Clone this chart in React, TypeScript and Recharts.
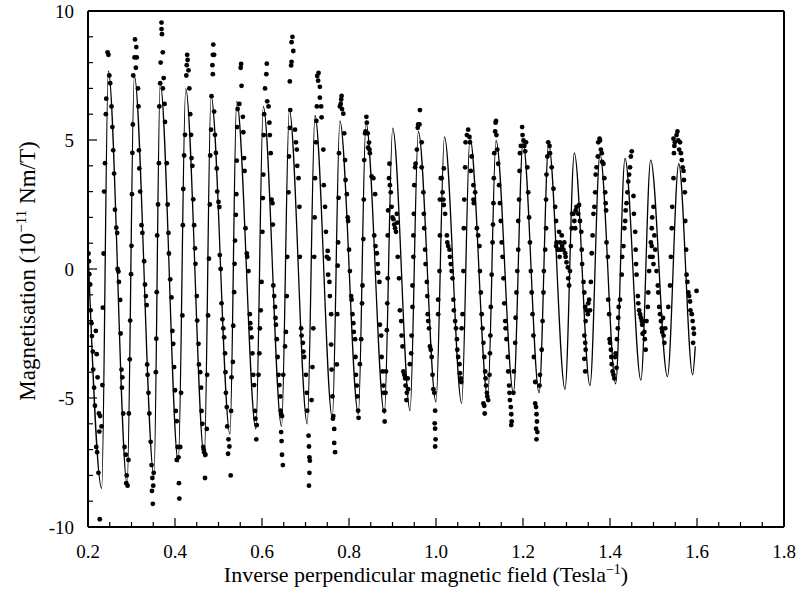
import {
  ComposedChart,
  Line,
  ReferenceLine,
  Scatter,
  XAxis,
  YAxis,
} from "recharts";

// fitted curve: start, then trough / peak pairs
const fitExtrema: [number, number][] = [
  [0.2, 0.8],
  [0.2315, -8.5], [0.2467, 7.68],
  [0.29, -8.34], [0.3065, 7.48],
  [0.3517, -8.0], [0.366, 7.2],
  [0.4076, -7.5], [0.4246, 6.99],
  [0.4674, -7.3], [0.4828, 6.71],
  [0.5264, -6.4], [0.5418, 6.5],
  [0.586, -6.2], [0.603, 6.3],
  [0.645, -6.1], [0.6628, 6.16],
  [0.704, -6.0], [0.7218, 5.95],
  [0.7617, -5.77], [0.779, 5.74],
  [0.8215, -5.63], [0.839, 5.67],
  [0.8813, -5.6], [0.9004, 5.46],
  [0.9404, -5.49], [0.9594, 5.33],
  [1.0, -5.15], [1.0195, 5.12],
  [1.059, -5.21], [1.078, 5.1],
  [1.119, -5.0], [1.138, 4.98],
  [1.178, -4.8], [1.2, 4.9],
  [1.237, -4.8], [1.259, 4.84],
  [1.2966, -4.66], [1.318, 4.49],
  [1.354, -4.52], [1.377, 4.45],
  [1.413, -4.45], [1.4345, 4.29],
  [1.471, -4.31], [1.4935, 4.22],
  [1.532, -4.17], [1.558, 4.08],
  [1.59, -4.1], [1.596, -3.0],
];

// measured points, grouped by x range
const dots02: [number, number][] = [
  [0.201, 0.6], [0.202, 0.3], [0.203, -0.2], [0.205, -0.6], [0.206, -1.6], [0.208, -2.1],
  [0.209, -2.6], [0.211, -3.2], [0.212, -3.9], [0.214, -4.6], [0.216, -5.3], [0.218, -2.4],
  [0.22, -3.3], [0.222, -4.2], [0.225, -5.6], [0.228, -5.7], [0.231, -6.1], [0.219, -6.9],
  [0.221, -7.1], [0.224, -7.9], [0.226, -6.3], [0.227, -9.7],
  [0.233, -4.5], [0.234, -1.5], [0.236, 0.6], [0.237, 3.0], [0.239, 4.1], [0.241, 6.0],
  [0.242, 6.6], [0.245, 8.4], [0.247, 8.3], [0.249, 7.5], [0.251, 7.2],
  [0.254, 6.3], [0.256, 5.5], [0.258, 4.6], [0.26, 3.7], [0.262, 2.3], [0.265, 1.6],
  [0.267, 1.4], [0.268, 0.0], [0.27, -0.1], [0.271, -0.5], [0.274, -1.2], [0.275, -2.5],
  [0.277, -3.9], [0.279, -4.2], [0.278, -4.6], [0.281, -5.6], [0.284, -6.9], [0.287, -7.2],
  [0.289, -8.0], [0.288, -8.3], [0.291, -8.4],
  [0.293, -7.4], [0.294, -5.6], [0.296, -3.5], [0.297, -2.0], [0.299, -0.2], [0.3, 0.9],
  [0.301, 2.9], [0.302, 4.5], [0.303, 5.6], [0.304, 7.5], [0.307, 8.2], [0.308, 8.9],
  [0.312, 8.2], [0.311, 8.6], [0.31, 7.8],
];

const dots03: [number, number][] = [
  [0.315, 7.0], [0.316, 6.3], [0.317, 4.6], [0.318, 3.9], [0.32, 3.0], [0.323, 1.7],
  [0.325, 1.4], [0.329, 0.3], [0.331, -0.6], [0.333, -1.05], [0.335, -1.4], [0.336, -3.7],
  [0.337, -4.1], [0.339, -4.8], [0.341, -5.6], [0.344, -6.7], [0.346, -7.6], [0.348, -8.1],
  [0.35, -8.4], [0.347, -8.6], [0.349, -9.1], [0.351, -7.9],
  [0.356, -4.0], [0.357, -2.7], [0.358, -0.9], [0.359, 1.3], [0.361, 2.5], [0.363, 4.1],
  [0.364, 6.3], [0.366, 7.2], [0.367, 8.0], [0.369, 9.55], [0.369, 9.3], [0.37, 9.1],
  [0.372, 8.4], [0.374, 7.4], [0.372, 7.0],
  [0.376, 6.4], [0.377, 5.7], [0.381, 4.1], [0.383, 2.5], [0.385, 1.4], [0.386, 0.6],
  [0.389, -0.4], [0.392, -1.1], [0.394, -2.4], [0.396, -2.9], [0.398, -3.8], [0.4, -4.7],
  [0.402, -5.5], [0.404, -5.9], [0.406, -6.9], [0.404, -7.4], [0.408, -7.3], [0.409, -8.3],
  [0.41, -8.9],
  [0.412, -6.9], [0.414, -4.8], [0.417, -1.8], [0.418, 1.7], [0.419, 3.1], [0.421, 4.4],
  [0.423, 5.2], [0.427, 7.9], [0.429, 8.1], [0.431, 7.7], [0.426, 7.5], [0.428, 8.3],
  [0.433, 7.0], [0.435, 6.0], [0.437, 5.2], [0.438, 4.3], [0.44, 4.0], [0.442, 2.7],
  [0.444, 1.7], [0.446, 0.8], [0.447, 0.2], [0.45, -1.05], [0.451, -2.0], [0.454, -2.9],
  [0.455, -3.7], [0.458, -4.0], [0.46, -4.6], [0.461, -5.5], [0.463, -6.0], [0.465, -6.9],
  [0.467, -7.1], [0.469, -8.1], [0.466, -7.0], [0.47, -7.2],
  [0.473, -6.2], [0.474, -4.1], [0.476, -1.8], [0.478, 0.4], [0.48, 2.5], [0.481, 4.4],
  [0.483, 5.4], [0.484, 6.7], [0.486, 7.9], [0.487, 8.3], [0.488, 8.7], [0.49, 8.3],
  [0.487, 7.55],
];

const dots05: [number, number][] = [
  [0.49, 6.1], [0.492, 5.2], [0.494, 4.5], [0.496, 3.9], [0.497, 3.0], [0.5, 2.6],
  [0.502, 2.4], [0.503, 0.54], [0.505, 0.0], [0.507, -1.33], [0.509, -1.95], [0.511, -2.3],
  [0.513, -2.65], [0.515, -3.27], [0.516, -4.0], [0.517, -4.8], [0.519, -5.35], [0.52, -6.1],
  [0.523, -6.6], [0.525, -6.88], [0.522, -7.16], [0.528, -8.0],
  [0.529, -5.5], [0.53, -4.2], [0.533, -3.6], [0.534, -2.2], [0.536, -0.9], [0.537, 0.2],
  [0.538, 1.1], [0.54, 2.1], [0.541, 2.9], [0.542, 4.2], [0.543, 5.5], [0.544, 6.2],
  [0.548, 6.4], [0.551, 7.8], [0.552, 7.95], [0.553, 7.1],
  [0.556, 5.9], [0.557, 5.3], [0.559, 4.3], [0.56, 3.8], [0.562, 1.58], [0.565, 0.6],
  [0.566, 0.47], [0.569, -0.08], [0.572, -1.75], [0.573, -2.1], [0.574, -2.3], [0.576, -2.65],
  [0.578, -3.27], [0.58, -4.1], [0.582, -4.5], [0.584, -5.5], [0.585, -5.8], [0.588, -6.05],
  [0.587, -6.6],
  [0.592, -4.1], [0.594, -3.27], [0.595, -2.3], [0.597, -1.6], [0.599, -0.5], [0.601, 1.44],
  [0.602, 2.75], [0.603, 3.66], [0.604, 5.19], [0.605, 6.0], [0.607, 7.0], [0.611, 7.96],
  [0.61, 7.55], [0.612, 6.5], [0.615, 6.3],
  [0.617, 5.67], [0.618, 5.19], [0.62, 4.49], [0.622, 2.69], [0.624, 2.55], [0.625, 1.72],
  [0.626, -0.64], [0.628, -1.05], [0.63, -1.47], [0.631, -1.9], [0.632, -2.16], [0.634, -2.72],
  [0.636, -3.41], [0.638, -4.1], [0.64, -4.5], [0.642, -4.94], [0.643, -5.49], [0.644, -5.63],
  [0.646, -5.7], [0.644, -6.32], [0.645, -6.67], [0.646, -7.2], [0.648, -7.6],
  [0.649, -4.1], [0.653, -3.0], [0.655, -2.44], [0.657, -1.05], [0.658, 0.47], [0.661, 2.97],
  [0.662, 4.36], [0.664, 5.47], [0.665, 6.16], [0.664, 7.27], [0.667, 7.89], [0.668, 8.03],
  [0.668, 8.79], [0.67, 9.0], [0.672, 8.45],
];

const dots07: [number, number][] = [
  [0.676, 5.4], [0.678, 4.91], [0.68, 4.63], [0.681, 4.0], [0.684, 3.52], [0.686, 2.41],
  [0.687, 0.47], [0.69, -2.3], [0.691, -2.58], [0.694, -2.86], [0.695, -3.2], [0.697, -3.41],
  [0.701, -4.1], [0.703, -4.8], [0.704, -5.49], [0.707, -6.46], [0.708, -6.88], [0.709, -7.3],
  [0.71, -7.43], [0.709, -7.9], [0.708, -8.4],
  [0.714, -5.08], [0.716, -3.8], [0.718, -2.3], [0.72, 0.47], [0.721, 2.0], [0.722, 3.52],
  [0.724, 4.91], [0.725, 5.74], [0.726, 6.3], [0.727, 7.48], [0.73, 7.6], [0.729, 7.3],
  [0.733, 7.06], [0.733, 6.64], [0.736, 6.3], [0.737, 5.88],
  [0.741, 4.63], [0.742, 3.25], [0.745, 2.41], [0.747, 1.44], [0.749, 0.47], [0.751, 0.7],
  [0.753, 0.4], [0.752, -0.22], [0.755, -0.5], [0.756, -1.05], [0.759, -1.75], [0.759, -2.93],
  [0.76, -3.9], [0.762, -4.94], [0.764, -5.7], [0.763, -5.8], [0.766, -6.2], [0.766, -6.74],
  [0.768, -7.1],
  [0.772, -3.7], [0.773, -1.75], [0.774, 0.13], [0.775, 1.03], [0.776, 2.76], [0.777, 4.49],
  [0.779, 6.3], [0.782, 6.57], [0.781, 6.4], [0.783, 6.71], [0.784, 6.2], [0.787, 6.02],
  [0.789, 5.26],
  [0.791, 4.22], [0.792, 3.45], [0.795, 2.9], [0.797, 2.0], [0.798, 1.86], [0.8, 0.75],
  [0.802, -0.08], [0.805, -1.05], [0.806, -1.19], [0.808, -1.75], [0.81, -2.1], [0.811, -2.44],
  [0.814, -2.72], [0.815, -3.41], [0.816, -4.1], [0.818, -4.52], [0.819, -4.94], [0.821, -5.49],
  [0.822, -5.77],
  [0.825, -3.69], [0.828, -2.72], [0.83, -1.33], [0.831, -0.64], [0.833, 1.16], [0.834, 2.69],
  [0.835, 4.22], [0.837, 5.26], [0.838, 5.33], [0.841, 5.67], [0.84, 5.9], [0.843, 5.26],
  [0.844, 4.7], [0.847, 4.63], [0.848, 4.49], [0.846, 4.9],
];

const dots09: [number, number][] = [
  [0.852, 3.59], [0.856, 3.52], [0.86, 2.9], [0.858, 1.3], [0.861, 0.89], [0.864, 0.61],
  [0.866, 0.19], [0.867, -0.15], [0.87, -0.5], [0.871, -2.16], [0.874, -2.58], [0.875, -3.41],
  [0.877, -3.97], [0.879, -4.52], [0.88, -4.8], [0.881, -5.49], [0.882, -5.91],
  [0.884, -4.8], [0.885, -3.97], [0.887, -2.37], [0.888, -1.33], [0.889, -0.36], [0.889, 1.3],
  [0.89, 2.27], [0.892, 3.52], [0.893, 4.08], [0.894, 3.25], [0.896, 2.97], [0.898, 2.41],
  [0.9, 2.0], [0.902, 1.93], [0.904, 1.72], [0.906, 1.58], [0.908, 1.44], [0.91, 2.14],
  [0.911, 1.8],
  [0.912, 0.47], [0.915, -0.36], [0.917, -1.6], [0.92, -2.02], [0.921, -2.58], [0.923, -3.0],
  [0.925, -3.97], [0.927, -4.1], [0.929, -4.24], [0.93, -4.52], [0.933, -4.8], [0.935, -4.24],
  [0.936, -4.66], [0.932, -5.08],
  [0.94, -3.69], [0.943, -3.27], [0.944, -2.58], [0.946, -1.47], [0.946, -0.64], [0.948, 0.47],
  [0.948, 1.3], [0.949, 2.14], [0.95, 3.25], [0.952, 3.94], [0.953, 4.08], [0.956, 4.63],
  [0.958, 5.47], [0.959, 5.6], [0.963, 6.16], [0.962, 5.6], [0.967, 4.91],
  [0.967, 3.94], [0.971, 2.97], [0.972, 2.14], [0.973, 1.58], [0.975, 0.75], [0.976, 0.19],
  [0.979, -0.5], [0.98, -1.05], [0.981, -1.75], [0.982, -2.02], [0.984, -2.3], [0.986, -3.0],
  [0.988, -3.13], [0.99, -3.41], [0.992, -4.1], [0.994, -4.66], [0.996, -4.8], [0.998, -5.49],
  [0.997, -5.98], [0.998, -6.19], [0.999, -6.6], [0.998, -6.88],
  [1.005, -1.75], [1.005, -1.19], [1.008, -0.08], [1.009, 1.3], [1.009, 2.69], [1.011, 3.52],
  [1.013, 3.52],
];

const dots11: [number, number][] = [
  [1.015, 2.97], [1.017, 2.69], [1.018, 2.48], [1.018, 3.9], [1.021, 2.14], [1.025, 1.3],
  [1.026, 1.03], [1.028, 0.89], [1.031, 0.75], [1.032, 0.47], [1.034, 0.19], [1.036, -0.08],
  [1.038, -0.36], [1.04, -1.19], [1.041, -1.6], [1.044, -2.02], [1.046, -2.3], [1.048, -2.72],
  [1.049, -3.13], [1.051, -3.41], [1.054, -3.69], [1.055, -4.04], [1.057, -4.24], [1.058, -4.38],
  [1.059, -2.3], [1.061, -1.75], [1.063, -0.08], [1.064, 1.58], [1.065, 2.69], [1.067, 3.94],
  [1.068, 4.91], [1.071, 5.19], [1.074, 5.4], [1.077, 5.12], [1.078, 4.91], [1.082, 4.36],
  [1.08, 3.8], [1.086, 3.25], [1.086, 2.69], [1.087, 2.55], [1.09, 2.97],
  [1.094, 1.58], [1.097, 1.3], [1.1, 0.89], [1.101, -0.08], [1.103, -0.91], [1.105, -1.75],
  [1.107, -2.3], [1.109, -2.86], [1.111, -3.41], [1.113, -3.97], [1.114, -4.24], [1.115, -4.52],
  [1.117, -4.8], [1.118, -4.94], [1.12, -5.08], [1.109, -5.21], [1.111, -5.3], [1.112, -5.6],
  [1.123, -4.1], [1.124, -3.27], [1.125, -2.58], [1.126, -1.47], [1.128, -0.22], [1.13, 1.03],
  [1.131, 1.72], [1.132, 2.55], [1.133, 3.52], [1.134, 4.49], [1.136, 5.33], [1.137, 5.67],
  [1.138, 5.74], [1.139, 5.19], [1.141, 4.63],
  [1.143, 4.08], [1.145, 3.25], [1.147, 2.55], [1.149, 1.86], [1.151, 1.03], [1.153, 0.47],
  [1.155, -0.36], [1.157, -1.33], [1.159, -2.02], [1.16, -2.3], [1.162, -2.72], [1.165, -3.41],
  [1.166, -3.97], [1.168, -4.52], [1.169, -4.8], [1.17, -5.08], [1.172, -5.35], [1.173, -5.63],
  [1.174, -5.91], [1.173, -6.05],
  [1.178, -4.8], [1.179, -3.97], [1.182, -2.86], [1.183, -1.89], [1.185, -0.91], [1.187, -0.08],
  [1.189, 0.75], [1.189, 1.86], [1.191, 2.69], [1.192, 3.8], [1.193, 4.49], [1.195, 4.77],
  [1.199, 5.19], [1.201, 4.98], [1.203, 4.77], [1.205, 4.56], [1.207, 4.91], [1.198, 5.5],
  [1.21, 3.94], [1.212, 2.97], [1.214, 2.0], [1.216, 1.03], [1.218, -0.08], [1.22, -0.91],
  [1.222, -1.75], [1.224, -2.58], [1.225, -3.41], [1.228, -4.38], [1.228, -5.21], [1.23, -5.35],
  [1.231, -5.63], [1.232, -5.91], [1.23, -6.19], [1.233, -6.32], [1.231, -6.6],
  [1.238, -4.52], [1.239, -4.1], [1.243, -3.13], [1.245, -2.02], [1.247, -0.91], [1.248, -0.08],
  [1.251, 0.75], [1.253, 1.58], [1.253, 2.69], [1.254, 3.66], [1.256, 4.36], [1.258, 4.91],
  [1.261, 4.77], [1.262, 4.49], [1.266, 3.94],
  [1.27, 3.11], [1.274, 2.41], [1.276, 1.86], [1.277, 1.03], [1.281, 0.75], [1.284, 0.47],
];

const dots13: [number, number][] = [
  [1.276, 0.89], [1.28, 0.75], [1.283, 1.44], [1.285, 1.03], [1.287, 0.75], [1.289, 1.3],
  [1.29, 0.89], [1.293, 0.75], [1.295, 1.03], [1.297, 0.61], [1.298, 0.47], [1.3, 0.26],
  [1.303, 0.06], [1.304, -0.36], [1.306, -0.64], [1.308, -0.08], [1.31, 0.89], [1.312, 1.58],
  [1.313, 2.14], [1.316, 2.14], [1.318, 1.86], [1.32, 1.58], [1.321, 2.27], [1.323, 2.41],
  [1.327, 2.14], [1.329, 2.48], [1.331, 1.86], [1.334, 1.44],
  [1.335, 0.75], [1.336, 0.19], [1.339, -0.5], [1.341, -0.91], [1.343, -1.47], [1.344, -2.02],
  [1.346, -1.6], [1.349, -1.75], [1.35, -1.33], [1.352, -1.19], [1.354, -1.6], [1.341, -2.58],
  [1.343, -2.86], [1.344, -3.13], [1.341, -3.48], [1.343, -3.97],
  [1.356, -0.5], [1.358, 0.61], [1.36, 1.3], [1.362, 2.14], [1.364, 2.41], [1.366, 2.97],
  [1.367, 3.66], [1.369, 3.94], [1.372, 4.36], [1.373, 4.91], [1.376, 5.05], [1.377, 4.98],
  [1.379, 4.63], [1.381, 4.49], [1.382, 4.15], [1.385, 4.08], [1.387, 3.52],
  [1.389, 2.97], [1.39, 2.55], [1.391, 2.27], [1.392, 1.03], [1.395, 0.47], [1.396, -1.19],
  [1.398, -1.75], [1.399, -2.72], [1.4, -2.86], [1.402, -3.13], [1.403, -3.41], [1.404, -3.69],
  [1.406, -3.97], [1.408, -4.1], [1.41, -4.24], [1.412, -3.41], [1.413, -3.27], [1.415, -3.83],
  [1.416, -2.72], [1.418, -2.3], [1.419, -1.89], [1.42, -1.47], [1.423, -1.19], [1.427, -0.22],
  [1.428, 0.47], [1.431, 0.89], [1.433, 1.58], [1.435, 1.86], [1.436, 2.27], [1.438, 2.55],
  [1.44, 2.97], [1.442, 3.39], [1.444, 3.66], [1.446, 3.94], [1.448, 4.36], [1.45, 4.56],
];

const dots15: [number, number][] = [
  [1.454, 2.83], [1.455, 2.14], [1.458, 1.44], [1.459, 0.75], [1.46, 0.19], [1.461, -0.22],
  [1.464, -1.05], [1.465, -1.33], [1.467, -1.6], [1.469, -1.75], [1.471, -1.89], [1.473, -2.02],
  [1.474, -2.16], [1.477, -2.02], [1.479, -2.44], [1.48, -2.72], [1.482, -3.13], [1.475, -2.51],
  [1.484, -2.02], [1.487, -1.47], [1.488, -0.91], [1.49, -0.08], [1.492, 0.47], [1.494, 1.03],
  [1.496, 1.58], [1.497, 2.0], [1.5, 2.41], [1.496, 0.89], [1.498, 0.47], [1.5, 0.19],
  [1.504, 0.75], [1.502, 1.3],
  [1.507, -0.08], [1.51, -0.64], [1.511, -0.91], [1.513, -1.47], [1.515, -1.75], [1.517, -2.02],
  [1.519, -2.3], [1.52, -2.44], [1.523, -2.58], [1.525, -2.86], [1.527, -2.3], [1.522, -1.9],
  [1.534, -1.47], [1.538, -0.64], [1.54, 0.47], [1.542, 1.58], [1.543, 2.41], [1.546, 3.52],
  [1.547, 4.49], [1.548, 4.77],
  [1.546, 5.05], [1.549, 4.91], [1.553, 5.19], [1.555, 5.33], [1.557, 4.98], [1.559, 4.63],
  [1.561, 4.91], [1.563, 4.49], [1.565, 4.22], [1.567, 3.94], [1.569, 3.8], [1.57, 3.45],
  [1.572, 2.97], [1.573, 1.86], [1.575, 0.75], [1.576, -0.22], [1.578, -0.5], [1.58, -0.91],
  [1.582, -1.05], [1.584, -1.26], [1.585, -1.6], [1.588, -1.75], [1.59, -2.02], [1.592, -2.3],
  [1.593, -2.51], [1.591, -2.86], [1.599, -0.85],
];

const xMajorTicks = [0.2, 0.4, 0.6, 0.8, 1.0, 1.2, 1.4, 1.6, 1.8];
const yMajorTicks = [-10, -5, 0, 5, 10];

const round = (v: number) => Math.round(v * 1000) / 1000;
const xTicks = xMajorTicks.flatMap((t, i) =>
  i < xMajorTicks.length - 1 ? [t, round(t + 0.05), round(t + 0.1), round(t + 0.15)] : [t],
);
const yTicks = yMajorTicks.flatMap((t, i) =>
  i < yMajorTicks.length - 1 ? [t, t + 1, t + 2, t + 3, t + 4] : [t],
);

const toPoints = (arr: [number, number][]) => arr.map(([x, y]) => ({ x, y }));
const curveData = toPoints(fitExtrema);
const dotData = toPoints([
  ...dots02, ...dots03, ...dots05, ...dots07, ...dots09, ...dots11, ...dots13, ...dots15,
]);

const FONT = "'Liberation Serif', 'Times New Roman', serif";

const isMajor = (v: number, list: number[]) => list.some((m) => Math.abs(m - v) < 1e-6);

function XTick({ x, y, payload }: any) {
  const major = isMajor(payload.value, xMajorTicks);
  return (
    <g>
      <line x1={x} x2={x} y1={y} y2={y - (major ? 9 : 5)} stroke="#000" strokeWidth={1.2} />
      {major && (
        <text x={x} y={y + 31} textAnchor="middle" fontFamily={FONT} fontSize={19} fill="#000">
          {payload.value.toFixed(1)}
        </text>
      )}
    </g>
  );
}

function YTick({ x, y, payload }: any) {
  const major = isMajor(payload.value, yMajorTicks);
  return (
    <g>
      <line x1={x} x2={x + (major ? 9 : 5)} y1={y} y2={y} stroke="#000" strokeWidth={1.2} />
      {major && (
        <text x={x - 14} y={y + 6.5} textAnchor="end" fontFamily={FONT} fontSize={19} fill="#000">
          {payload.value}
        </text>
      )}
    </g>
  );
}

const DotShape = (props: any) => <circle cx={props.cx} cy={props.cy} r={2.4} fill="#000" />;

export default function App() {
  return (
    <div style={{ position: "absolute", left: 0, top: 0, width: 801, height: 599, background: "#fff" }}>
      <ComposedChart width={801} height={599} margin={{ top: 11, right: 17, bottom: 0, left: 0 }}>
        <XAxis
          type="number"
          dataKey="x"
          domain={[0.2, 1.8]}
          ticks={xTicks}
          interval={0}
          tickSize={0}
          tickMargin={0}
          tick={XTick}
          height={72}
          axisLine={{ stroke: "#000", strokeWidth: 2 }}
          allowDataOverflow
        />
        <YAxis
          type="number"
          dataKey="y"
          domain={[-10, 10]}
          ticks={yTicks}
          interval={0}
          tickSize={0}
          tickMargin={0}
          tick={YTick}
          width={88}
          axisLine={{ stroke: "#000", strokeWidth: 2 }}
          allowDataOverflow
        />
        <ReferenceLine y={10} stroke="#000" strokeWidth={2} />
        <ReferenceLine x={1.8} stroke="#000" strokeWidth={2} />
        <Line
          data={curveData}
          dataKey="y"
          type="monotone"
          stroke="#000"
          strokeWidth={1.3}
          dot={false}
          activeDot={false}
          isAnimationActive={false}
        />
        <Scatter data={dotData} dataKey="y" shape={DotShape} isAnimationActive={false} />
      </ComposedChart>
      <svg
        width={801}
        height={599}
        style={{ position: "absolute", left: 0, top: 0, pointerEvents: "none" }}
      >
        <text x={426} y={582} textAnchor="middle" fontFamily={FONT} fontSize={22} fill="#000">
          Inverse perpendicular magnetic field (Tesla
          <tspan dy={-8} fontSize={14}>−1</tspan>
          <tspan dy={8}>)</tspan>
        </text>
        <text
          x={0}
          y={0}
          transform="translate(35 271) rotate(-90)"
          textAnchor="middle"
          fontFamily={FONT}
          fontSize={23}
          fill="#000"
        >
          Magnetisation (10
          <tspan dy={-9} fontSize={15}>−11</tspan>
          <tspan dy={9}> Nm/T)</tspan>
        </text>
      </svg>
    </div>
  );
}
